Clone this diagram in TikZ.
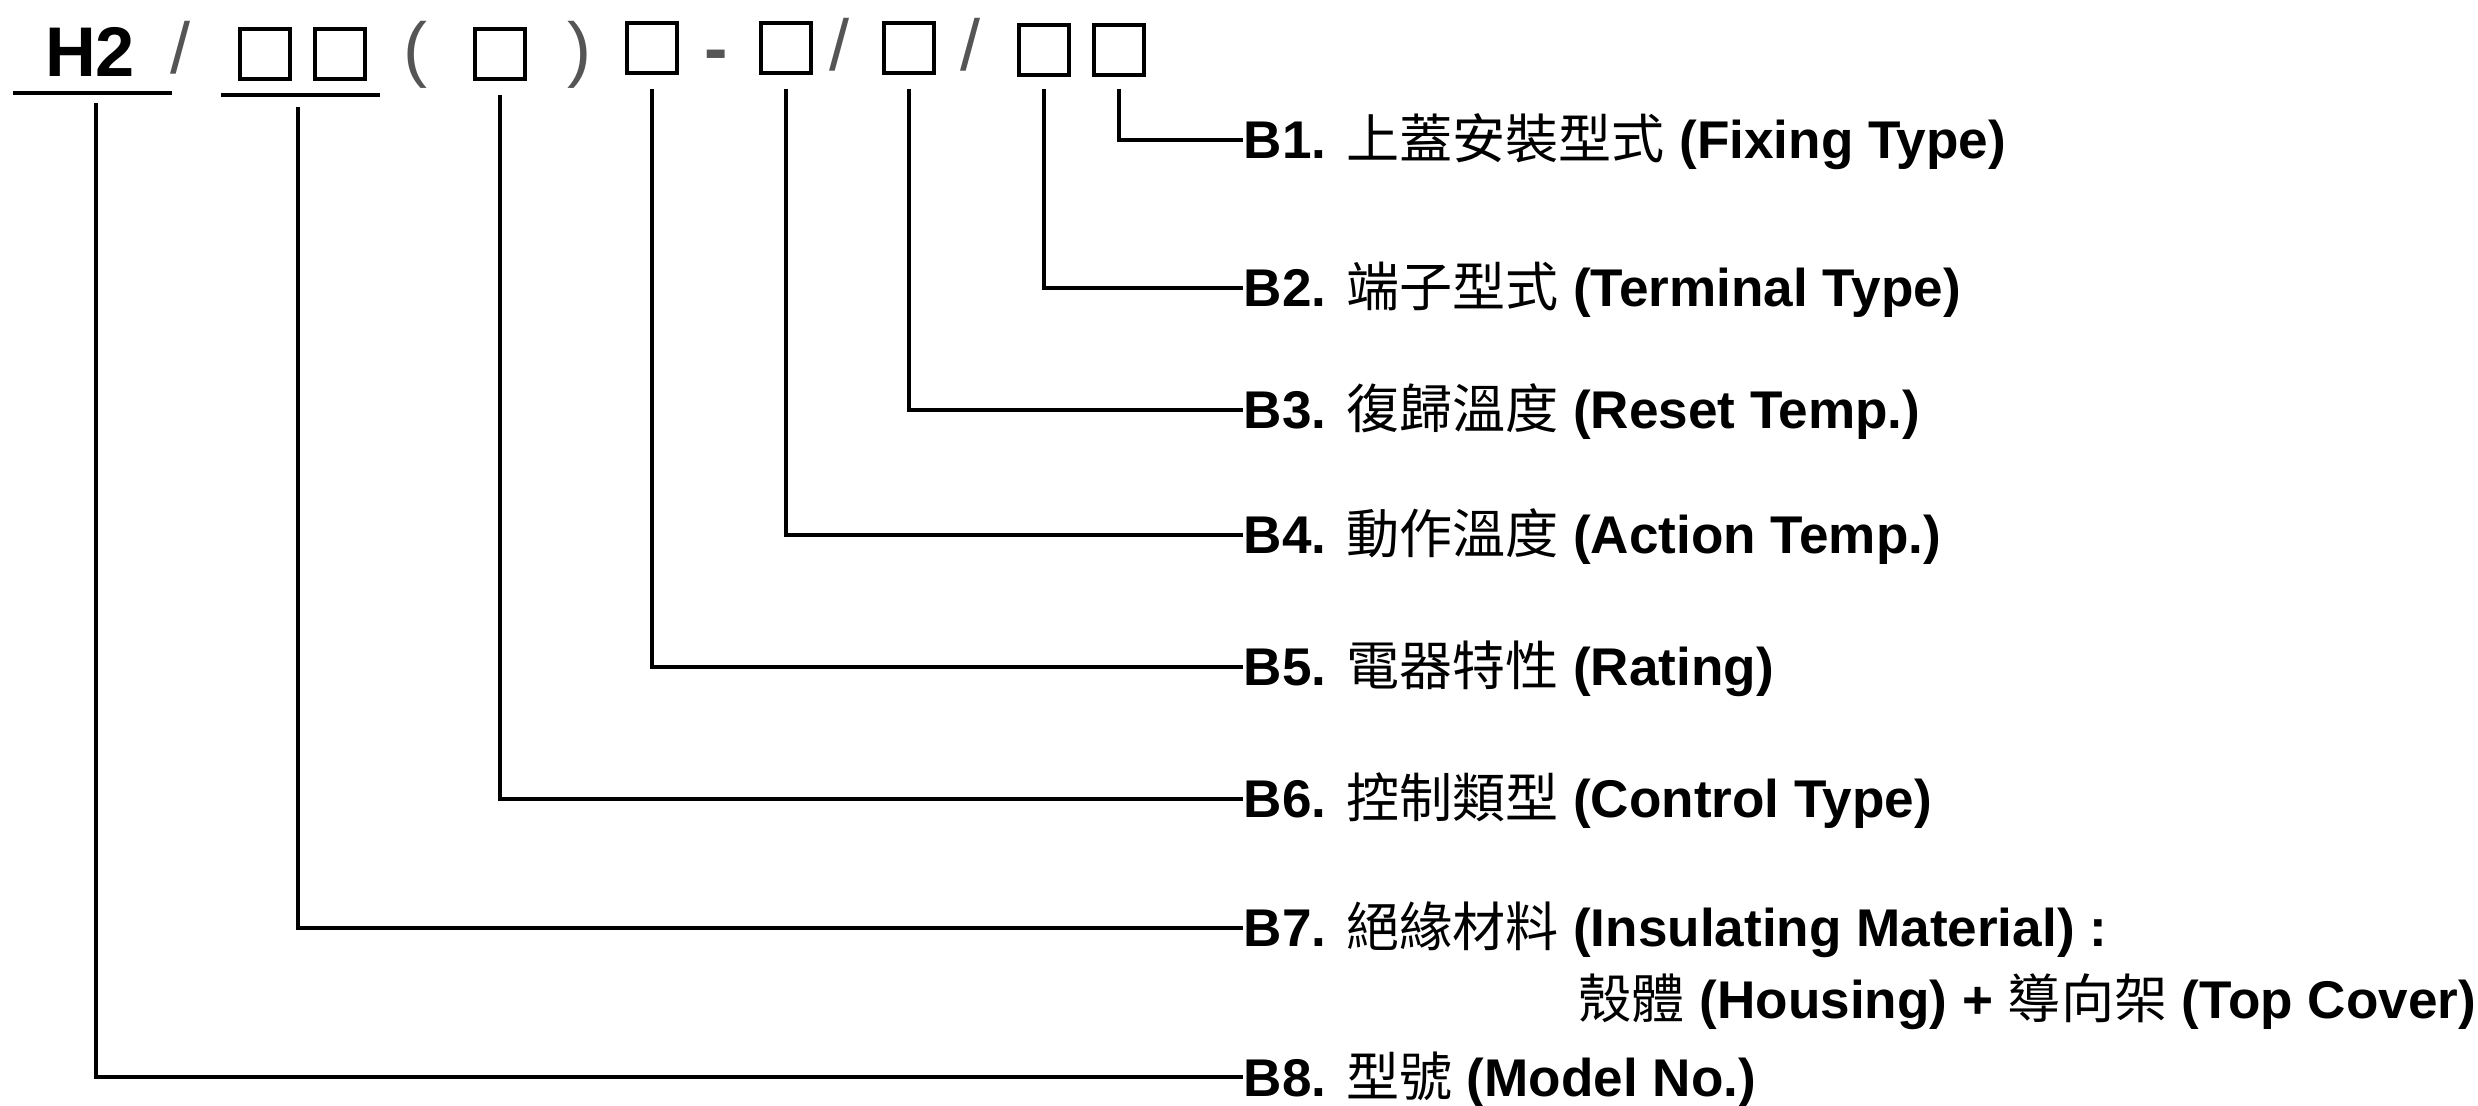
\documentclass[tikz,border=0pt]{standalone}
\usepackage{fontspec}
\setmainfont{Liberation Sans}
\newfontfamily\cjk{Noto Sans CJK TC}
\usetikzlibrary{positioning}
\definecolor{sepgray}{RGB}{85,85,85}
\tikzset{
  slot/.style = {rectangle, draw, line width=0.04cm,
                 minimum size=0.49cm, inner sep=0pt},
  sep/.style  = {text=sepgray, inner sep=0pt,
                 font=\fontsize{20.5}{20.5}\selectfont},
  conn/.style = {line width=0.04cm},
  lab/.style  = {anchor=west, inner xsep=0pt, inner ysep=0pt,
                 text height=10.8pt, text depth=0pt,
                 font=\fontsize{15.1}{18}\selectfont\bfseries}
}

\begin{document}
\begin{tikzpicture}[x=0.01cm, y=-0.01cm]
  \useasboundingbox (0,0) rectangle (2478,1106);

  % model code
  \node[anchor=base, inner sep=0pt,
        font=\fontsize{20}{20}\selectfont\bfseries] (h2) at (90,77) {H2};
  \draw[conn] (13,93) -- (172,93);
  \node[sep] (s1) at (181,48) {/};
  \node[slot] (b7a) at (265,54) {};
  \node[slot] (b7b) at (340,54) {};
  \draw[conn] (221,95) -- (380,95);
  \node[sep] (p1) at (415,55) {(};
  \node[slot] (b6) at (500,54) {};
  \node[sep] (p2) at (579,55) {)};
  \node[slot] (b5) at (652,48) {};
  \node[sep, font=\fontsize{20}{20}\selectfont\bfseries] (s2) at (716,61) {-};
  \node[slot] (b4) at (786,48) {};
  \node[sep] (s3) at (840,45) {/};
  \node[slot] (b3) at (909,48) {};
  \node[sep] (s4) at (971,45) {/};
  \node[slot] (b2) at (1044,50) {};
  \node[slot] (b1) at (1119,50) {};

  % Legend
  \node[lab] (l1) at (1243,140)  {B1. {\cjk\mdseries 上蓋安裝型式} (Fixing Type)};
  \node[lab] (l2) at (1243,288)  {B2. {\cjk\mdseries 端子型式} (Terminal Type)};
  \node[lab] (l3) at (1243,410)  {B3. {\cjk\mdseries 復歸溫度} (Reset Temp.)};
  \node[lab] (l4) at (1243,535)  {B4. {\cjk\mdseries 動作溫度} (Action Temp.)};
  \node[lab] (l5) at (1243,667)  {B5. {\cjk\mdseries 電器特性} (Rating)};
  \node[lab] (l6) at (1243,799)  {B6. {\cjk\mdseries 控制類型} (Control Type)};
  \node[lab] (l7) at (1243,928)  {B7. {\cjk\mdseries 絕緣材料} (Insulating Material) :};
  \node[lab, anchor=base west] (l7x) at (1578,1018)
    {{\cjk\mdseries 殼體} (Housing) + {\cjk\mdseries 導向架} (Top Cover)};
  \node[lab] (l8) at (1243,1077) {B8. {\cjk\mdseries 型號} (Model No.)};

  \coordinate (m8) at (96,103);
  \coordinate (m7) at (298,107);
  \draw[conn] (m8) |- (l8.west);
  \draw[conn] (m7) |- (l7.west);
  \draw[conn] ([yshift=-0.14cm]b6.south) |- (l6.west);
  \draw[conn] ([yshift=-0.14cm]b5.south) |- (l5.west);
  \draw[conn] ([yshift=-0.14cm]b4.south) |- (l4.west);
  \draw[conn] ([yshift=-0.14cm]b3.south) |- (l3.west);
  \draw[conn] ([yshift=-0.12cm]b2.south) |- (l2.west);
  \draw[conn] ([yshift=-0.12cm]b1.south) |- (l1.west);
\end{tikzpicture}
\end{document}
